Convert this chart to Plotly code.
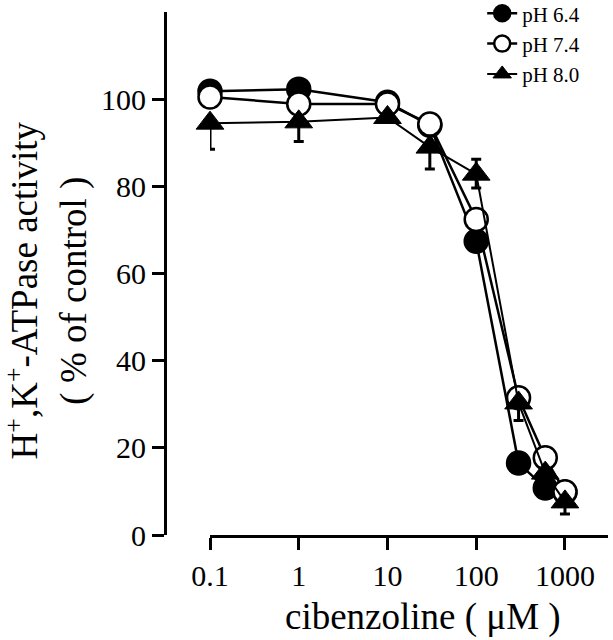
import plotly.graph_objects as go

conc = [0.1, 1, 10, 30, 100, 300, 600, 1000]
ph64 = [101.8, 102.3, 99.3, 94.0, 67.4, 16.5, 10.8, 9.8]
ph74 = [100.5, 98.9, 98.9, 94.3, 72.4, 31.5, 17.7, 9.9]
ph80 = [94.5, 94.8, 95.8, 89.0, 82.8, 30.3, 14.2, 7.6]
ph80_err_minus = [6.0, 4.5, 1.0, 5.0, 3.2, 4.0, 2.0, 2.8]
ph80_err_plus = [0, 0, 0, 0, 3.4, 0, 0, 0]

x_ticks = [0.1, 1, 10, 100, 1000]
x_tick_labels = ["0.1", "1", "10", "100", "1000"]
y_ticks = [0, 20, 40, 60, 80, 100]

FONT = "Liberation Serif, Times New Roman, serif"

fig = go.Figure()
fig.add_trace(go.Scatter(
    x=conc, y=ph64, name="pH 6.4", mode="lines+markers", cliponaxis=False,
    line=dict(color="black", width=2.5),
    marker=dict(symbol="circle", size=23, color="black",
                line=dict(color="black", width=2.5)),
))
fig.add_trace(go.Scatter(
    x=conc, y=ph74, name="pH 7.4", mode="lines+markers", cliponaxis=False,
    line=dict(color="black", width=2.5),
    marker=dict(symbol="circle", size=23, color="white",
                line=dict(color="black", width=2.5)),
))
fig.add_trace(go.Scatter(
    x=conc, y=ph80, name="pH 8.0", mode="lines+markers", cliponaxis=False,
    line=dict(color="black", width=2),
    marker=dict(symbol="triangle-up", size=24, color="black",
                line=dict(color="black", width=1)),
    error_y=dict(type="data", symmetric=False, array=ph80_err_plus,
                 arrayminus=ph80_err_minus, color="black",
                 thickness=3, width=5),
))

fig.update_layout(
    width=613, height=640,
    margin=dict(l=165, r=5, t=12, b=105, autoexpand=False),
    paper_bgcolor="white", plot_bgcolor="white",
    font=dict(family=FONT, color="black", size=30),
    showlegend=True,
    legend=dict(x=0.716, y=1.036, xanchor="left", yanchor="top",
                font=dict(family=FONT, size=21, color="black"),
                bgcolor="rgba(0,0,0,0)", tracegroupgap=0, itemwidth=30),
    xaxis=dict(type="log", range=[-1, 3.485], domain=[0.1016, 1],
               tickvals=x_ticks, ticktext=x_tick_labels,
               showline=True, linecolor="black", linewidth=3,
               ticks="outside", ticklen=12, tickwidth=3, tickcolor="black",
               showgrid=False, zeroline=False, automargin=False,
               tickfont=dict(family=FONT, size=30, color="black"),
               anchor="y"),
    yaxis=dict(range=[0, 120], anchor="free", position=0,
               tickvals=y_ticks, automargin=False,
               showline=True, linecolor="black", linewidth=3,
               ticks="outside", ticklen=12, tickwidth=3, tickcolor="black",
               showgrid=False, zeroline=False,
               tickfont=dict(family=FONT, size=30, color="black")),
    annotations=[
        dict(text="cibenzoline ( \u03bcM )", xref="paper", yref="paper",
             x=0.582, y=-0.157, xanchor="center", yanchor="middle",
             showarrow=False, font=dict(family=FONT, size=37, color="black")),
        dict(text="H<sup>+</sup>,K<sup>+</sup>-ATPase activity<br>( % of control )",
             xref="paper", yref="paper", x=-0.266, y=0.468,
             xanchor="center", yanchor="middle", textangle=-90,
             showarrow=False, font=dict(family=FONT, size=37, color="black")),
    ],
)

fig.write_html("out.html", config={"displayModeBar": False},
               post_script="document.body.style.margin='0';document.body.style.padding='0';")
